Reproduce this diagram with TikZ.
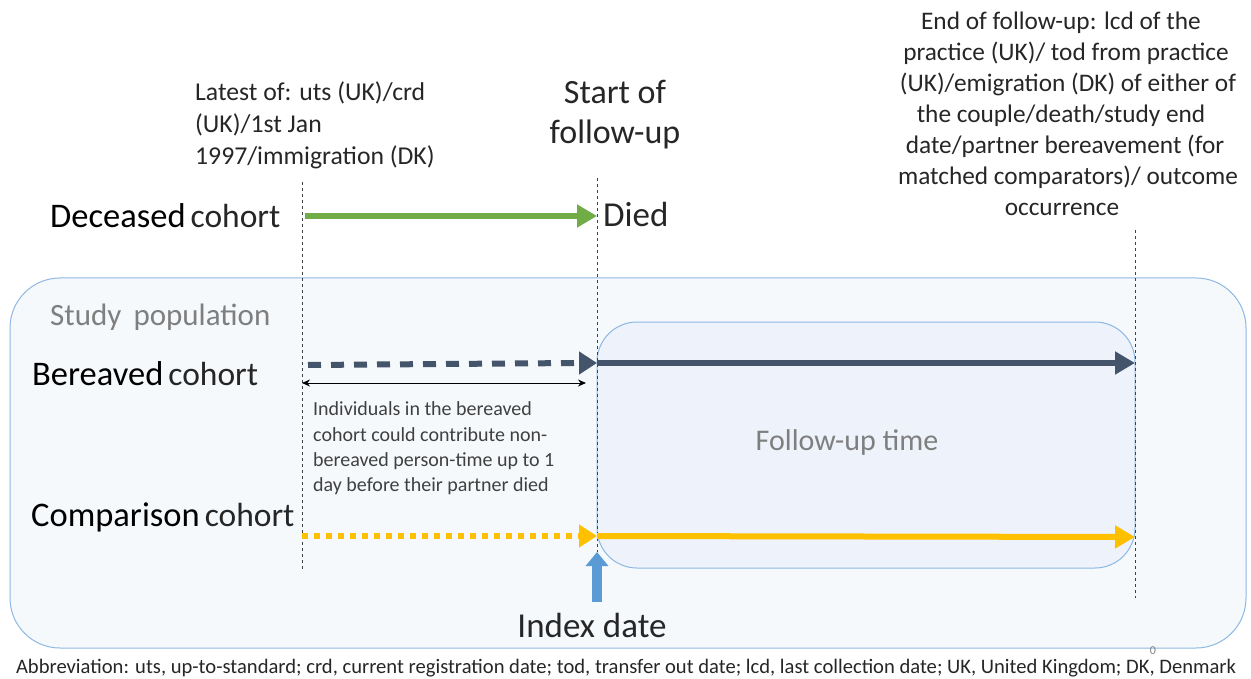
\documentclass[tikz,border=0pt]{standalone}
\usepackage{fontspec}
\setmainfont{Carlito}
\usetikzlibrary{arrows.meta}
\definecolor{grn}{HTML}{70AD47}
\definecolor{slate}{HTML}{44546A}
\definecolor{amber}{HTML}{FFC000}
\definecolor{bluebd}{HTML}{8DB8E3}
\definecolor{outerfill}{HTML}{F6F9FC}
\definecolor{innerfill}{HTML}{EEF3FB}
\definecolor{idxblue}{HTML}{5B9BD5}
\definecolor{txtgray}{HTML}{7F7F7F}
\definecolor{smalltxt}{HTML}{404040}
\definecolor{maintxt}{HTML}{262626}
\tikzset{
  fs/.style={font=\fontsize{#1}{#1}\selectfont},
  vguide/.style={draw=black!75, line width=0.8pt, dash pattern=on 3pt off 3pt},
  bigarrow/.style={line width=6pt, -{Triangle[length=20pt,width=22pt]}},
  lbl/.style={inner sep=0pt, anchor=base west, text=maintxt},
  ctr/.style={inner sep=0pt, anchor=base, text=maintxt},
}
\newcommand{\cohortlabel}[1]{\fontsize{34.5}{34.5}\selectfont\textcolor{black}{#1}\hspace{5pt}{\fontsize{33.5}{33.5}\selectfont cohort}}
\begin{document}
\begin{tikzpicture}[x=1pt,y=-1pt]
\useasboundingbox (0,0) rectangle (1251,679);
% boxes
\draw[draw=bluebd, fill=outerfill, line width=1pt, rounded corners=50pt] (10,278) rectangle (1246,648);
\draw[draw=bluebd, fill=innerfill, line width=1pt, rounded corners=40pt] (597,322) rectangle (1135,568);
% coordinates
\coordinate (g1) at (302,182);
\coordinate (g1b) at (302,570);
\coordinate (g2) at (597,178);
\coordinate (g2b) at (597,552);
\coordinate (g3) at (1135,230);
\coordinate (g3b) at (1135,598);
\draw[vguide] (g1) -- (g1b);
\draw[vguide] (g2) -- (g2b);
\draw[vguide] (g3) -- (g3b);
% texts
\node[lbl, fs=25.7] (latest) at (195,101) {Latest of: uts (UK)/crd};
\node[lbl, fs=25.7] (latest2) at (195,133) {(UK)/1st Jan};
\node[lbl, fs=25.7] (latest3) at (195,165) {1997/immigration (DK)};
\node[ctr, fs=34] (start) at (615,104) {Start of};
\node[ctr, fs=34] (start2) at (615,144) {follow-up};
\node[ctr, fs=25.3] (e1) at (1061,30) {End of follow-up: lcd of the};
\node[ctr, fs=25.3] (e2) at (1066,61) {practice (UK)/ tod from practice};
\node[ctr, fs=25.3] (e3) at (1068,92) {(UK)/emigration (DK) of either of};
\node[ctr, fs=25.3] (e4) at (1061,123) {the couple/death/study end};
\node[ctr, fs=25.3] (e5) at (1065,154) {date/partner bereavement (for};
\node[ctr, fs=25.3] (e6) at (1068,185) {matched comparators)/ outcome};
\node[ctr, fs=25.3] (e7) at (1062,216) {occurrence};
\node[lbl] (dec) at (50,228) {\cohortlabel{Deceased}};
\node[lbl, fs=35] (died) at (603,227) {Died};
\node[lbl, fs=31, text=txtgray] (pop) at (50,325) {Study\, population};
\node[lbl] (ber) at (32,385) {\cohortlabel{Bereaved}};
\node[lbl] (comp) at (31,526) {\cohortlabel{Comparison}};
\node[lbl, fs=20, text=smalltxt] (i1) at (313,415) {Individuals in the bereaved};
\node[lbl, fs=20, text=smalltxt] (i2) at (313,441) {cohort could contribute non-};
\node[lbl, fs=20, text=smalltxt] (i3) at (313,466) {bereaved person-time up to 1};
\node[lbl, fs=20, text=smalltxt] (i4) at (313,491) {day before their partner died};
\node[ctr, fs=30, text=txtgray] (fut) at (847,450) {Follow-up time};
\node[ctr, fs=35] (idx) at (592,637) {Index date};
\node[ctr, fs=12, text=txtgray] (zero) at (1153,654) {0};
\node[ctr, fs=20.6] (abbr) at (626,673) {Abbreviation: uts, up-to-standard; crd, current registration date; tod, transfer out date; lcd, last collection date; UK, United Kingdom; DK, Denmark};
% arrows
\coordinate (ga) at (305,216);
\coordinate (gb) at (597,216);
\draw[bigarrow, grn] (ga) -- (gb);
\coordinate (ba) at (308,365);
\coordinate (bb) at (597,363);
\coordinate (bc) at (1135,363);
\draw[line width=6pt, slate, dash pattern=on 13pt off 10pt] (ba) -- ([xshift=-18pt]bb);
\draw[line width=6pt, slate, -{Triangle[length=18pt,width=22pt]}] ([xshift=-12pt]bb) -- (bb);
\draw[bigarrow, slate] (bb) -- (bc);
\coordinate (da) at (302,383);
\coordinate (db) at (586,383);
\draw[line width=1pt, {Stealth[length=8pt,width=7pt]}-{Stealth[length=8pt,width=7pt]}] (da) -- (db);
\coordinate (ca) at (302,536);
\coordinate (cb) at (597,536);
\coordinate (cc) at (1135,537);
\draw[line width=6pt, amber, dash pattern=on 6pt off 6pt] (ca) -- ([xshift=-16pt]cb);
\draw[line width=6pt, amber, -{Triangle[length=18pt,width=22pt]}] ([xshift=-10pt]cb) -- (cb);
\draw[bigarrow, amber] (cb) -- (cc);
\coordinate (ia) at (597,602);
\coordinate (ib) at (597,552);
\draw[line width=10pt, idxblue, -{Triangle[length=14pt,width=22pt]}] (ia) -- (ib);
\end{tikzpicture}
\end{document}
